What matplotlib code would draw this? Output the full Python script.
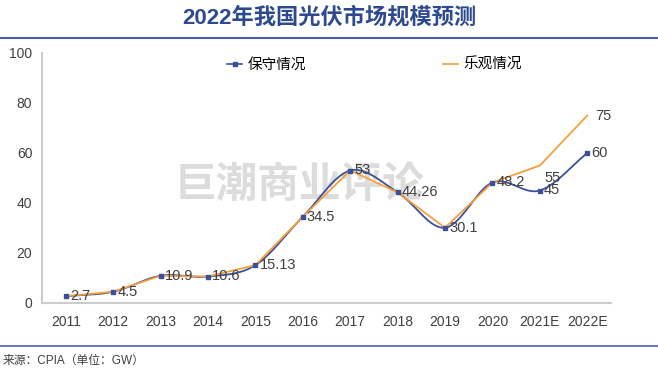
import numpy as np
import matplotlib.pyplot as plt
from matplotlib.lines import Line2D

plt.rcParams['font.family'] = ['Liberation Sans', 'Noto Sans CJK SC', 'DejaVu Sans']

years = ["2011", "2012", "2013", "2014", "2015", "2016", "2017", "2018",
         "2019", "2020", "2021E", "2022E"]
conservative = [2.7, 4.5, 10.9, 10.6, 15.13, 34.5, 53, 44.26, 30.1, 48.2, 45, 60]
optimistic = [2.7, 4.5, 10.9, 10.6, 15.13, 34.5, 53, 44.26, 30.1, 48.2, 55, 75]
labels = ["2.7", "4.5", "10.9", "10.6", "15.13", "34.5", "53", "44.26",
          "30.1", "48.2", "45", "60"]

BLUE = "#3D4F9A"
ORANGE = "#F4A03C"


def smooth(x, y, n=20):
    # Catmull-Rom spline through the points, like a spreadsheet "smoothed line"
    x = np.asarray(x, float)
    y = np.asarray(y, float)
    px = np.concatenate([[2 * x[0] - x[1]], x, [2 * x[-1] - x[-2]]])
    py = np.concatenate([[2 * y[0] - y[1]], y, [2 * y[-1] - y[-2]]])
    xs, ys = [], []
    t = np.linspace(0, 1, n)
    for i in range(1, len(px) - 2):
        for p, out in ((px, xs), (py, ys)):
            p0, p1, p2, p3 = p[i - 1], p[i], p[i + 1], p[i + 2]
            out.extend(0.5 * ((2 * p1) + (-p0 + p2) * t
                              + (2 * p0 - 5 * p1 + 4 * p2 - p3) * t ** 2
                              + (-p0 + 3 * p1 - 3 * p2 + p3) * t ** 3))
    return np.array(xs), np.array(ys)


fig = plt.figure(figsize=(6.58, 3.70), dpi=100)
ax = fig.add_axes([42 / 658, 1 - 303 / 370, 569 / 658, 250 / 370])

# watermark sits under the lines
ax.text(300 / 658, 1 - 186 / 370, "巨潮商业评论", transform=fig.transFigure,
        ha="center", va="center", fontsize=30, fontweight="bold",
        color="#DCDCDC", zorder=1)

x = np.arange(len(years))
sx, sy = smooth(x, conservative)
ax.plot(sx, sy, color=BLUE, lw=1.3, zorder=3)
ax.plot(x, conservative, ls="none", marker="s", ms=3.2, color=BLUE, zorder=4)
ax.plot(x, optimistic, color=ORANGE, lw=1.3, zorder=3)

for i, lab in enumerate(labels):
    ax.annotate(lab, (x[i], conservative[i]), xytext=(3, 0), textcoords="offset points",
                ha="left", va="center", fontsize=10.5, color="#404040", zorder=5)
ax.annotate("55", (x[10], optimistic[10]), xytext=(3, -9), textcoords="offset points",
            ha="left", va="center", fontsize=10.5, color="#404040", zorder=5)
ax.annotate("75", (x[11], optimistic[11]), xytext=(6, 0), textcoords="offset points",
            ha="left", va="center", fontsize=10.5, color="#404040", zorder=5)

ax.set_xlim(-0.5, len(years) - 0.5)
ax.set_ylim(0, 100)
ax.set_yticks(range(0, 101, 20))
ax.set_xticks(x)
ax.set_xticklabels(years)
ax.tick_params(axis="both", length=0, labelsize=10, colors="#404040")
ax.tick_params(axis="x", pad=9)
ax.tick_params(axis="y", pad=7)
for s in ("top", "right"):
    ax.spines[s].set_visible(False)
for s in ("left", "bottom"):
    ax.spines[s].set_color("#CCCCCC")
    ax.spines[s].set_linewidth(1.5)

handles = [Line2D([], [], color=BLUE, marker="s", ms=3, lw=1.2),
           Line2D([], [], color=ORANGE, lw=1.2)]
ax.legend(handles, ["保守情况", "乐观情况"], loc="upper center", ncol=2,
          bbox_to_anchor=(0.585, 1.034), frameon=False, fontsize=10.5,
          columnspacing=9.4, handlelength=1.0, handletextpad=0.4)

fig.text(0.5, 1 - 18 / 370, "2022年我国光伏市场规模预测", ha="center", va="center",
         fontsize=16, fontweight="bold", color="#2E4A8E")
fig.add_artist(Line2D([0, 1], [1 - 38 / 370, 1 - 38 / 370], color="#4A5FA8", lw=1.5))
fig.add_artist(Line2D([0, 1], [1 - 346 / 370, 1 - 346 / 370], color="#4A5FA8", lw=1.2))
fig.text(0.004, 1 - 361 / 370, "来源：CPIA（单位：GW）", ha="left", va="center",
         fontsize=8.5, color="#404040")

fig.savefig("out.png", dpi=100)
